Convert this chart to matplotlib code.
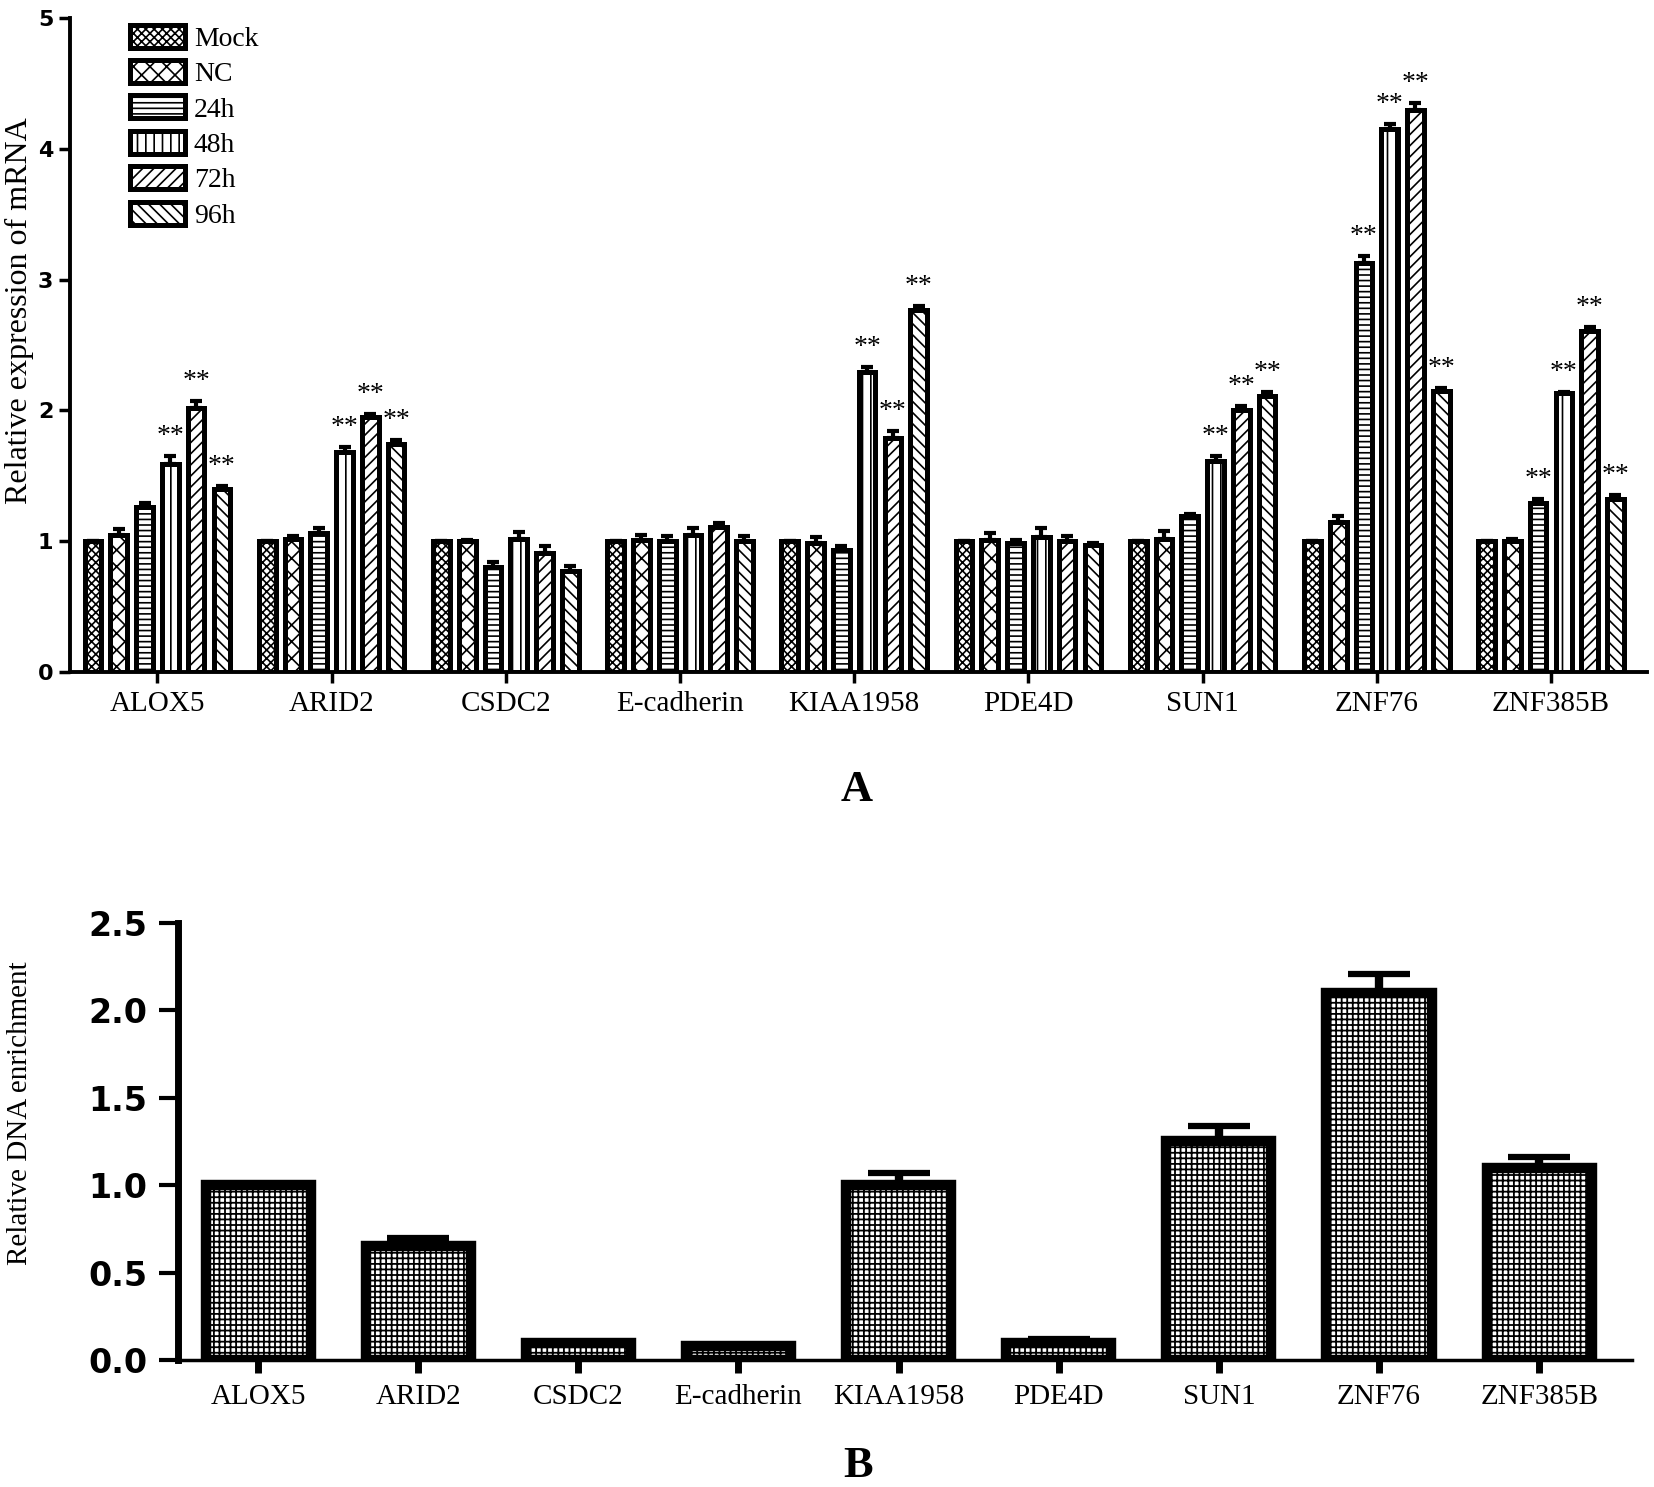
import matplotlib
matplotlib.use("Agg")
import matplotlib.pyplot as plt
import numpy as np

genes = ["ALOX5", "ARID2", "CSDC2", "E-cadherin", "KIAA1958", "PDE4D", "SUN1", "ZNF76", "ZNF385B"]
conditions = ["Mock", "NC", "24h", "48h", "72h", "96h"]

# panel A: relative mRNA expression, gene order as above
mock = [1.00, 1.00, 1.00, 1.00, 1.00, 1.00, 1.00, 1.00, 1.00]
nc = [1.05, 1.02, 1.00, 1.01, 0.99, 1.01, 1.02, 1.15, 1.00]
h24 = [1.26, 1.06, 0.80, 1.00, 0.93, 0.99, 1.19, 3.13, 1.29]
h48 = [1.59, 1.68, 1.02, 1.05, 2.29, 1.03, 1.61, 4.15, 2.13]
h72 = [2.02, 1.95, 0.91, 1.11, 1.79, 1.00, 2.00, 4.30, 2.61]
h96 = [1.40, 1.74, 0.77, 1.00, 2.77, 0.97, 2.11, 2.15, 1.32]

mock_err = [0.00, 0.00, 0.00, 0.00, 0.00, 0.00, 0.00, 0.00, 0.00]
nc_err = [0.04, 0.02, 0.01, 0.04, 0.04, 0.05, 0.06, 0.04, 0.02]
h24_err = [0.03, 0.04, 0.04, 0.04, 0.03, 0.02, 0.02, 0.05, 0.03]
h48_err = [0.06, 0.04, 0.05, 0.05, 0.04, 0.07, 0.04, 0.04, 0.01]
h72_err = [0.05, 0.02, 0.05, 0.03, 0.05, 0.04, 0.03, 0.05, 0.03]
h96_err = [0.02, 0.03, 0.04, 0.04, 0.03, 0.02, 0.03, 0.02, 0.03]

# genes marked ** for each time point
sig_24h = ["ZNF76", "ZNF385B"]
sig_48h = ["ALOX5", "ARID2", "KIAA1958", "SUN1", "ZNF76", "ZNF385B"]
sig_72h = ["ALOX5", "ARID2", "KIAA1958", "SUN1", "ZNF76", "ZNF385B"]
sig_96h = ["ALOX5", "ARID2", "KIAA1958", "SUN1", "ZNF76", "ZNF385B"]

# panel B: relative DNA enrichment
enrich = [1.00, 0.65, 0.10, 0.08, 1.00, 0.10, 1.25, 2.10, 1.10]
enrich_err = [0.00, 0.05, 0.00, 0.00, 0.07, 0.02, 0.09, 0.11, 0.06]

series = [mock, nc, h24, h48, h72, h96]
series_err = [mock_err, nc_err, h24_err, h48_err, h72_err, h96_err]
sigs = [[], [], sig_24h, sig_48h, sig_72h, sig_96h]
hatches = ["xxxx", "XX", "---", "||", "///", "\\\\\\"]

serif = "Liberation Serif"

fig = plt.figure(figsize=(16.54, 14.87), dpi=100)

# ---------------- panel A ----------------
axA = fig.add_axes([0.04232, 0.54808, 0.95345, 0.43981])
x = np.arange(len(genes))
pitch = 0.148
width = 0.096
offsets = (np.arange(6) - 2.5) * pitch

plt.rcParams['hatch.linewidth'] = 1.2
for k, cond in enumerate(conditions):
    xs = x + offsets[k]
    axA.bar(xs, series[k], width, facecolor="white", edgecolor="black",
            linewidth=3.6, hatch=hatches[k], label=cond, zorder=2)
    errs = np.array(series_err[k])
    axA.errorbar(xs, series[k], yerr=[np.zeros(len(genes)), errs], fmt="none",
                 ecolor="black", elinewidth=3.0, capsize=4.5, capthick=3.0, zorder=3)
    for g in sigs[k]:
        i = genes.index(g)
        axA.text(xs[i], series[k][i] + errs[i] + 0.10, "**", ha="center", va="baseline",
                 fontsize=20, family=serif, zorder=4)

axA.set_xlim(-0.502, 8.551)
axA.set_ylim(0, 5)
axA.set_yticks([0, 1, 2, 3, 4, 5])
axA.set_xticks(x)
axA.set_xticklabels(genes, fontsize=21, family=serif)
for lab in axA.get_yticklabels():
    lab.set_fontweight("bold")
    lab.set_fontsize(16)
    lab.set_family("DejaVu Sans")
axA.tick_params(axis="both", direction="out", length=8, width=2.5, pad=4)
axA.tick_params(axis="x", pad=6)
axA.spines["top"].set_visible(False)
axA.spines["right"].set_visible(False)
axA.spines["left"].set_linewidth(2.8)
axA.spines["bottom"].set_linewidth(2.8)
axA.set_ylabel("Relative expression of mRNA", fontsize=23, family=serif)
axA.yaxis.set_label_coords(-0.023, 0.552)

axA.legend(loc="upper left", bbox_to_anchor=(0.038, 0.99), frameon=False,
           prop={"family": serif, "size": 20}, handlelength=2.0, handleheight=0.9,
           labelspacing=0.3, handletextpad=0.3, borderpad=0, borderaxespad=0)

fig.text(857 / 1654, 1 - 790 / 1487, "A", ha="center", va="center",
         fontsize=32, fontweight="bold", family=serif)

# ---------------- panel B ----------------
plt.rcParams['hatch.linewidth'] = 1.3
axB = fig.add_axes([0.10762, 0.08541, 0.87908, 0.29388])
axB.bar(x, enrich, 0.656, facecolor="white", edgecolor="black", linewidth=7.5,
        hatch="+++", zorder=2)
axB.errorbar(x, enrich, yerr=[np.zeros(len(genes)), np.array(enrich_err)], fmt="none",
             ecolor="black", elinewidth=6.0, capsize=22, capthick=4.5, zorder=3)
axB.set_xlim(-0.50, 8.58)
axB.set_ylim(0, 2.5)
axB.set_yticks([0.0, 0.5, 1.0, 1.5, 2.0, 2.5])
axB.set_yticklabels(["0.0", "0.5", "1.0", "1.5", "2.0", "2.5"], fontsize=24,
                    fontweight="bold", family="DejaVu Sans")
axB.set_xticks(x)
axB.set_xticklabels(genes, fontsize=21, family=serif)
axB.tick_params(axis="y", direction="out", length=14, width=3.0, pad=8)
axB.tick_params(axis="x", direction="out", length=9, width=5.0, pad=8)
axB.spines["top"].set_visible(False)
axB.spines["right"].set_visible(False)
axB.spines["left"].set_linewidth(5.0)
axB.spines["bottom"].set_linewidth(2.5)
axB.set_ylabel("Relative DNA enrichment", fontsize=21, family=serif)
axB.yaxis.set_label_coords(-0.100, 0.565)

fig.text(858 / 1654, 1 - 1466 / 1487, "B", ha="center", va="center",
         fontsize=32, fontweight="bold", family=serif)

fig.savefig("out.png", dpi=100)
